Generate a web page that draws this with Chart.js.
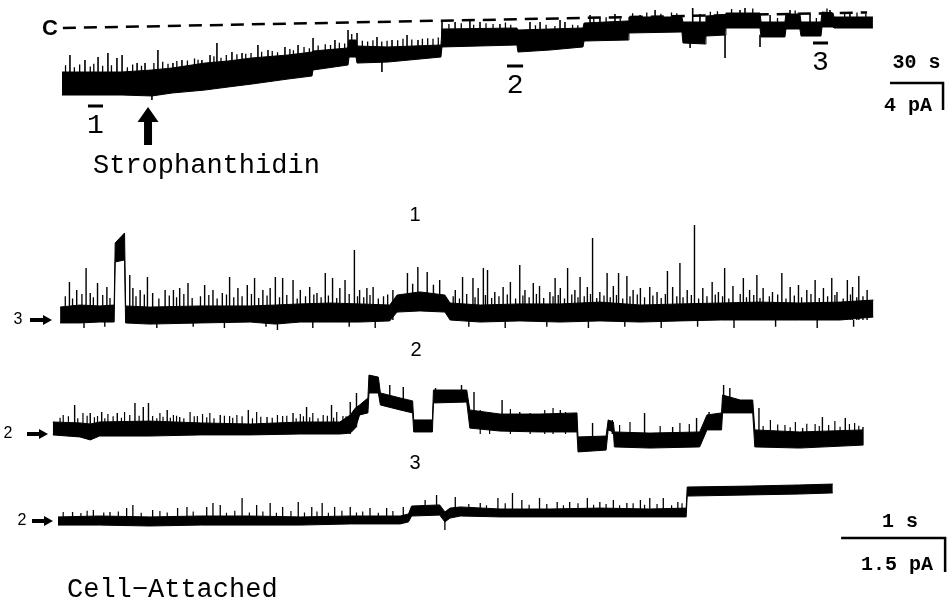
<!DOCTYPE html>
<html><head><meta charset="utf-8">
<script src="https://cdn.jsdelivr.net/npm/chart.js@4.4.0/dist/chart.umd.min.js"></script>
<style>html,body{margin:0;padding:0;background:#fff;overflow:hidden}#wrap{position:relative;width:947px;height:599px}</style>
</head><body><div id="wrap"><canvas id="c" width="947" height="599"></canvas></div>
<script>
// ---------------- DATA ----------------
// Top record: time (s) vs current (pA), 0 pA = closed level "C" at start
const topTime = [0, 14.7, 34.0, 50.9, 62.3, 80.9, 94.0, 107.5, 127.9, 141.5, 142.1, 161.9, 162.5, 166.4, 167.0, 184.5, 214.5, 215.1, 257.5, 258.1, 276.2, 294.9, 295.5, 320.4, 320.9, 350.9, 351.5, 364.0, 364.5, 375.3, 375.8, 395.1, 395.7, 409.2, 409.8, 417.7, 418.3, 429.6, 430.2, 436.4, 437.0, 459.0];
const topLow  = [-9.93, -9.93, -9.93, -10.07, -9.63, -9.19, -8.74, -8.30, -7.56, -7.11, -6.22, -5.48, -4.30, -4.30, -5.19, -5.04, -4.30, -2.81, -2.52, -3.56, -3.26, -2.81, -1.93, -1.78, -0.74, -0.59, -2.22, -2.37, -1.19, -1.04, 0, 0, -1.33, -1.33, -0.15, -0.15, -1.19, -1.19, 0.15, 0.15, 0, 0];
const topHigh = [-6.52, -6.52, -6.52, -6.22, -5.93, -5.19, -4.89, -4.44, -4.00, -3.56, -3.41, -2.96, -1.78, -1.78, -2.67, -2.81, -2.52, -0.15, 0, -0.30, -0.15, 0, 0.74, 1.04, 1.63, 1.63, 0.89, 0.89, 1.78, 1.93, 2.22, 2.22, 0.89, 0.89, 2.07, 2.07, 0.89, 0.89, 2.37, 2.22, 1.63, 1.63];
const topSpikeT    = [4.5, 13.0, 20.4, 26.0, 31.1, 34.0, 42.5, 47.0, 54.3, 62.8, 67.9, 79.2, 83.8, 87.7, 96.2, 101.9, 110.9, 116.6, 126.2, 133.6, 142.1, 154.5, 161.9, 167.0, 178.3, 186.8, 195.3, 201.5, 215.1, 222.5, 230.9, 236.6, 247.9, 264.9, 270.6, 281.9, 284.7, 298.9, 304.5, 313.0, 327.2, 335.7, 357.0, 361.1, 383.8, 386.6, 400.8, 412.1, 423.4, 434.7, 446.0, 50.9, 181.1, 375.3, 395.1, 355.5];
const topSpikeTip  = [-4.00, -4.74, -4.30, -3.70, -4.44, -4.00, -5.19, -5.19, -3.26, -5.19, -4.74, -4.74, -4.00, -2.22, -3.56, -3.70, -2.52, -3.26, -2.81, -2.52, -1.48, -1.78, -0.30, -0.74, -1.33, -1.78, -1.04, -1.78, 1.00, 0.89, 1.19, 0.89, 0.59, 0.89, 0.89, 1.19, 0.89, 1.93, 1.48, 2.07, 1.93, 2.67, 2.96, 2.07, 2.67, 2.96, 1.93, 2.67, 2.07, 2.67, 2.37, -10.67, -6.52, -4.44, -2.81, -2.96];
const topSpikeBase = [-7.5, -7.5, -7.5, -7.5, -7.5, -7.5, -7.5, -7.3, -7.2, -7.0, -6.8, -6.3, -6.2, -6.0, -5.7, -5.5, -5.2, -5.0, -4.8, -4.5, -4.2, -4.0, -3.5, -3.5, -3.6, -3.5, -3.4, -3.3, -1.5, -1.5, -1.5, -1.5, -1.5, -2.0, -2.0, -2.0, -2.0, -0.5, -1.0, -0.5, 0.5, 0.5, 0.5, 0.5, 1.0, 1.0, -0.5, 1.0, -0.5, 1.0, 1.0, -9.0, -4.5, -1.0, -1.0, -1.5];
const topMinorT    = [2, 7, 10, 16, 18, 23, 28, 37, 40, 45, 52, 57, 60, 65, 71, 75, 77, 86, 90, 93, 99, 104, 107, 113, 119, 122, 129, 131, 137, 140, 145, 149, 152, 157, 160, 164, 170, 173, 176, 181, 184, 190, 193, 198, 204, 207, 210, 213,
                      219, 226, 233, 240, 244, 251, 254, 268, 274, 279, 289, 292, 301, 308, 316, 323, 331, 339, 345, 348, 367, 371, 379, 391, 405, 415, 427, 433, 443, 450, 455];
const topMinorTip  = [-5.5, -5.8, -5.4, -5.7, -5.3, -5.6, -5.5, -5.8, -5.4, -5.6, -5.2, -5.0, -5.3, -4.9, -4.8, -4.5, -4.7, -4.2, -4.4, -4.0, -3.9, -3.8, -3.7, -3.5, -3.4, -3.6, -3.1, -3.3, -2.8, -3.0, -2.6, -2.4, -2.5, -2.2, -2.3, -0.9, -1.9, -2.0, -1.8, -2.0, -1.9, -1.8, -1.6, -1.7, -1.6, -1.5, -1.6, -1.4,
                      0.6, 0.7, 0.5, 0.7, 0.6, 0.8, 0.5, 0.4, 0.5, 0.3, 0.5, 0.4, 1.5, 1.6, 1.4, 2.2, 2.3, 2.1, 2.3, 2.2, 2.4, 2.5, 2.8, 2.9, 1.5, 2.6, 1.5, 2.9, 2.2, 2.3, 2.1];
const topMinorBase = [-7, -7, -7, -7, -7, -7, -7, -7, -7, -7, -6.8, -6.6, -6.5, -6.4, -6.2, -6.0, -6.0, -5.6, -5.5, -5.4, -5.2, -5.0, -4.9, -4.7, -4.5, -4.5, -4.3, -4.2, -4.0, -3.9, -3.6, -3.5, -3.4, -3.3, -3.2, -2.5, -3.0, -3.0, -3.0, -3.0, -3.0, -3.0, -2.9, -2.9, -2.8, -2.8, -2.7, -2.7,
                      -1, -1, -1, -1, -1, -1, -1, -1.2, -1.2, -1.2, -1.2, -1.2, 0.3, 0.3, 0.3, 1.0, 1.0, 1.0, 1.0, 1.0, 1.2, 1.2, 1.5, 1.5, 0.3, 1.5, 0.3, 1.5, 1.0, 1.0, 1.0];
const closedLineT  = [0.5, 455.7];
const closedLinePA = [0, 2.3];
const strophTime = 48.7;
const segLabels = ['1', '2', '3'];
const segStart  = [14.7, 251.9, 425.1];
const segEnd    = [23.2, 261.0, 433.6];
const topBarSec = 30, topBarPA = 4;

// Expanded records 1, 2, 3: time (s) vs current (pA) relative to the arrow level
const t1  = [0.02, 0.21, 0.40, 0.54, 0.55, 0.64, 0.65, 0.88, 1.37, 1.85, 2.09, 2.33, 2.62, 2.90, 3.19, 3.26, 3.48, 3.72, 3.77, 4.06, 4.44, 4.83, 5.21, 5.60, 5.98, 6.37, 6.75, 7.13, 7.52, 7.84];
const lo1 = [-0.13, -0.13, -0.09, -0.09, 2.56, 2.65, -0.13, -0.18, -0.13, -0.09, -0.18, -0.09, -0.09, -0.09, -0.04, 0.35, 0.40, 0.35, 0, -0.09, -0.04, -0.09, -0.04, -0.09, -0.04, 0, 0, 0, 0, 0.13];
const hi1 = [0.57, 0.66, 0.62, 0.66, 3.40, 3.84, 0.62, 0.57, 0.62, 0.62, 0.66, 0.71, 0.75, 0.71, 0.66, 1.10, 1.24, 1.10, 0.75, 0.66, 0.71, 0.71, 0.79, 0.66, 0.71, 0.75, 0.79, 0.75, 0.79, 0.88];
const sp1T   = [0.11, 0.27, 0.38, 0.47, 0.69, 0.86, 1.11, 1.25, 1.41, 1.65, 1.82, 1.89, 2.09, 2.16, 2.26, 2.42, 2.57, 2.64, 2.76, 2.85, 3.03, 3.89, 3.99, 4.09, 4.13, 4.35, 4.44, 4.57, 4.78, 4.90, 5.02, 5.14, 5.28, 5.39, 5.47, 5.69, 5.86, 5.98, 6.12, 6.29, 6.41, 6.59, 6.72, 6.96, 7.12, 7.28, 7.44, 7.59, 7.70, 2.11,
                0.18, 0.31, 0.72, 0.79, 0.91, 1.03, 1.17, 1.49, 1.58, 1.73, 1.97, 2.04, 2.33, 2.49, 2.71, 2.90, 2.97, 3.22, 3.82, 4.04, 4.20, 4.28, 4.49, 4.63, 4.73, 4.83, 4.97, 5.09, 5.21, 5.34, 5.53, 5.60, 5.76, 5.91, 6.05, 6.20, 6.35, 6.49, 6.65, 6.78, 6.87, 7.04, 7.20, 7.36, 7.49, 7.64, 7.78,
                0.25, 0.45, 0.95, 1.30, 1.60, 2.00, 2.45, 2.80, 3.05, 3.95, 4.30, 4.70, 5.10, 5.45, 5.80, 6.15, 6.50, 6.90, 7.30, 7.65];
const sp1Tip = [1.68, 2.29, 1.63, 1.46, 1.99, 1.90, 1.32, 1.63, 1.54, 1.90, 1.54, 1.85, 1.90, 1.85, 1.76, 1.46, 2.07, 1.85, 1.76, 3.09, 1.46, 1.90, 1.85, 2.29, 2.21, 1.68, 2.43, 1.63, 1.85, 2.29, 1.90, 3.62, 2.07, 2.07, 1.94, 1.46, 2.16, 2.51, 4.19, 1.68, 2.29, 1.85, 1.99, 2.07, 1.54, 1.76, 1.85, 1.76, 1.94, -0.44,
                1.32, 1.19, 1.41, 1.32, 1.19, 1.32, 1.41, 1.32, 1.19, 1.41, 1.32, 1.41, 1.32, 1.19, 1.41, 1.32, 1.41, 1.32, 1.32, 1.41, 1.24, 1.46, 1.32, 1.50, 1.24, 1.41, 1.32, 1.46, 1.24, 1.50, 1.32, 1.41, 1.24, 1.46, 1.32, 1.41, 1.24, 1.50, 1.32, 1.41, 1.24, 1.46, 1.32, 1.41, 1.24, 1.46, 1.32,
                -0.35, -0.30, -0.35, -0.30, -0.35, -0.30, -0.35, -0.30, -0.35, -0.30, -0.35, -0.30, -0.35, -0.30, -0.35, -0.30, -0.35, -0.30, -0.35, -0.30];
const sp1Base = 0;
const sp1ShortT   = [0.07, 0.14, 0.23, 0.34, 0.43, 0.50, 0.75, 0.83, 0.97, 1.07, 1.14, 1.21, 1.29, 1.37, 1.45, 1.53, 1.62, 1.69, 1.77, 1.86, 1.93, 2.01, 2.13, 2.20, 2.30, 2.38, 2.46, 2.53, 2.60, 2.68, 2.80, 2.88, 2.94, 3.00, 3.08, 3.13, 3.17,
                     3.80, 3.86, 3.93, 4.01, 4.11, 4.17, 4.24, 4.32, 4.40, 4.47, 4.53, 4.60, 4.67, 4.76, 4.81, 4.87, 4.94, 5.00, 5.06, 5.12, 5.18, 5.25, 5.31, 5.37, 5.43, 5.50, 5.57, 5.64, 5.72, 5.80, 5.84, 5.95, 6.01, 6.09, 6.16, 6.24, 6.32, 6.39, 6.45, 6.56, 6.62, 6.69, 6.75, 6.84, 6.92, 7.00, 7.08, 7.15, 7.24, 7.32, 7.40, 7.47, 7.55, 7.62, 7.68, 7.74, 7.81];
const sp1ShortTip = [1.05, 0.95, 1.15, 1.00, 1.10, 0.97, 1.05, 1.12, 0.95, 1.08, 1.00, 1.15, 0.97, 1.05, 1.10, 0.95, 1.12, 1.00, 1.05, 1.15, 0.97, 1.08, 1.00, 1.10, 0.95, 1.05, 1.12, 1.00, 1.08, 0.97, 1.15, 1.05, 1.00, 1.10, 0.95, 1.05, 1.12,
                     1.05, 0.95, 1.15, 1.00, 1.10, 0.97, 1.05, 1.12, 0.95, 1.08, 1.00, 1.15, 0.97, 1.05, 1.10, 0.95, 1.12, 1.00, 1.05, 1.15, 0.97, 1.08, 1.00, 1.10, 0.95, 1.05, 1.12, 1.00, 1.08, 0.97, 1.15, 1.05, 1.00, 1.10, 0.95, 1.05, 1.12, 1.05, 0.95, 1.15, 1.00, 1.10, 0.97, 1.05, 1.12, 0.95, 1.08, 1.00, 1.15, 0.97, 1.05, 1.10, 0.95, 1.12, 1.00, 1.05];
const sp1ElevT   = [3.36, 3.41, 3.46, 3.55, 3.61, 3.67];
const sp1ElevTip = [2.07, 1.60, 2.34, 2.12, 1.55, 1.76];
const sp1ElevBase = 0.5;

const t2  = [-0.05, 0.21, 0.31, 0.40, 0.88, 1.37, 1.85, 2.33, 2.71, 2.81, 2.86, 2.90, 2.98, 2.99, 3.08, 3.10, 3.29, 3.41, 3.42, 3.60, 3.61, 3.93, 3.96, 4.25, 4.63, 4.99, 5.00, 5.27, 5.29, 5.34, 5.35, 5.69, 6.17, 6.24, 6.38, 6.39, 6.56, 6.68, 6.70, 7.13, 7.74];
const lo2 = [-0.04, -0.13, -0.26, -0.09, -0.09, -0.04, -0.04, 0, 0, 0.04, 0.26, 0.84, 0.93, 1.81, 1.81, 1.28, 1.06, 0.93, 0.09, 0.09, 1.37, 1.41, 0.26, 0.13, 0.09, 0.09, -0.79, -0.71, 0.18, 0.09, -0.57, -0.62, -0.57, 0.18, 0.18, 0.93, 0.93, 0.93, -0.57, -0.62, -0.49];
const hi2 = [0.53, 0.49, 0.44, 0.53, 0.57, 0.49, 0.44, 0.53, 0.53, 0.84, 1.15, 1.28, 1.59, 2.60, 2.51, 1.81, 1.59, 1.46, 0.62, 0.62, 1.94, 1.94, 1.06, 0.88, 0.88, 0.93, -0.13, -0.09, 0.62, 0.53, 0.09, 0.04, 0.09, 0.84, 0.93, 1.72, 1.50, 1.50, 0.18, 0.09, 0.18];
const sp2T    = [0.16, 0.31, 0.42, 0.57, 0.74, 0.82, 0.87, 1.05, 1.17, 1.56, 1.83, 2.01, 2.26, 2.39, 2.63, 2.81, 2.87, 3.19, 3.32, 3.63, 3.75, 3.88, 4.00, 4.27, 4.44, 4.83, 4.94, 5.14, 5.33, 5.64, 5.91, 6.14, 6.26, 6.40, 6.46, 6.63, 6.74, 7.16, 7.35, 7.57, 7.74];
const sp2Tip  = [1.28, 0.93, 0.97, 0.93, 1.37, 1.19, 1.37, 1.06, 0.75, 0.84, 1.06, 0.75, 0.93, 1.19, 1.28, 1.41, 1.81, 2.16, 2.07, 2.03, 1.94, 2.16, 1.85, 1.50, 0.97, 1.06, 0.84, 0.49, 0.62, 0.93, 0.31, 0.71, 0.97, 2.16, 2.03, 1.50, 1.15, 0.26, 0.75, 0.71, 0.31];
const sp2Base = [0, 0, 0, 0, 0, 0, 0, 0, 0, 0, 0, 0, 0, 0, 0, 0, 0.3, 1.3, 1.3, 1.4, 1.4, 1.4, 0.3, 0.2, 0.2, 0.2, 0.2, -0.6, 0, -0.5, -0.5, -0.5, 0.3, 1.2, 1.2, 1.2, -0.5, -0.5, -0.5, -0.5, -0.5];
const sp2MinorT   = [0.05, 0.24, 0.38, 0.48, 0.64, 0.69, 0.91, 0.98, 1.11, 1.27, 1.34, 1.39, 1.46, 1.65, 1.72, 1.91, 2.11, 2.16, 2.33, 2.45, 2.55, 2.68, 2.74, 4.06, 4.15, 4.35, 4.54, 4.68, 4.76, 4.88, 5.40, 5.50, 5.79, 5.98, 6.07, 6.85, 6.99, 7.09, 7.28, 7.47, 7.66,
                     0.02, 0.10, 0.19, 0.28, 0.35, 0.45, 0.53, 0.61, 0.78, 0.95, 1.01, 1.08, 1.14, 1.21, 1.31, 1.43, 1.50, 1.60, 1.68, 1.77, 1.87, 1.95, 2.06, 2.20, 2.29, 2.36, 2.42, 2.50, 2.59, 2.65, 2.77,
                     6.78, 6.92, 7.04, 7.20, 7.32, 7.41, 7.52, 7.61, 7.70];
const sp2MinorTip = [0.84, 0.93, 0.79, 0.88, 0.97, 0.84, 0.79, 0.93, 0.84, 0.97, 0.79, 0.88, 0.93, 0.79, 0.84, 0.97, 0.84, 0.79, 0.88, 0.93, 0.84, 0.97, 0.79, 1.06, 0.97, 1.10, 0.93, 1.06, 1.15, 0.97, 0.40, 0.53, 0.35, 0.49, 0.44, 0.62, 0.40, 0.53, 0.44, 0.57, 0.49,
                     0.72, 0.78, 0.70, 0.80, 0.74, 0.70, 0.78, 0.72, 0.80, 0.70, 0.76, 0.72, 0.80, 0.70, 0.78, 0.74, 0.70, 0.80, 0.72, 0.78, 0.70, 0.76, 0.72, 0.80, 0.70, 0.78, 0.74, 0.70, 0.80, 0.72, 0.78,
                     0.35, 0.42, 0.30, 0.45, 0.35, 0.40, 0.32, 0.44, 0.36];
const sp2MinorBase = 0;

const t3  = [0, 0.40, 0.88, 1.37, 1.85, 2.33, 2.81, 3.29, 3.37, 3.40, 3.67, 3.72, 3.77, 3.87, 4.25, 4.73, 5.21, 5.69, 6.04, 6.05, 6.65, 7.13, 7.45];
const lo3 = [-0.18, -0.18, -0.22, -0.18, -0.18, -0.18, -0.13, -0.13, -0.04, 0.22, 0.26, -0.04, 0.13, 0.22, 0.18, 0.18, 0.18, 0.18, 0.18, 1.10, 1.15, 1.19, 1.24];
const hi3 = [0.18, 0.22, 0.18, 0.22, 0.22, 0.18, 0.22, 0.22, 0.31, 0.66, 0.71, 0.40, 0.57, 0.62, 0.53, 0.53, 0.57, 0.53, 0.57, 1.50, 1.54, 1.59, 1.63];
const sp3T    = [0.14, 0.34, 0.50, 0.66, 0.72, 0.91, 1.15, 1.24, 1.43, 1.49, 1.56, 1.77, 1.91, 2.04, 2.16, 2.31, 2.44, 2.54, 2.66, 2.81, 3.00, 3.16, 3.32, 3.53, 3.64, 3.82, 4.06, 4.23, 4.37, 4.46, 4.63, 4.80, 4.92, 5.09, 5.21, 5.34, 5.47, 5.60, 5.69, 5.82, 5.96, 3.72];
const sp3Tip  = [0.40, 0.49, 0.40, 0.57, 0.71, 0.49, 0.57, 0.62, 0.62, 0.79, 0.71, 1.01, 0.71, 0.79, 0.62, 0.84, 0.62, 0.79, 0.62, 0.62, 0.57, 0.57, 0.62, 0.93, 1.15, 1.06, 0.79, 1.01, 1.24, 0.93, 1.01, 0.84, 0.84, 1.01, 0.84, 0.93, 0.79, 0.93, 1.01, 1.01, 0.84, -0.40];
const sp3Base = [0, 0, 0, 0, 0, 0, 0, 0, 0, 0, 0, 0, 0, 0, 0, 0, 0, 0, 0, 0, 0, 0, 0, 0.4, 0.4, 0.3, 0.3, 0.3, 0.3, 0.3, 0.3, 0.3, 0.3, 0.3, 0.3, 0.3, 0.3, 0.3, 0.3, 0.3, 0.3, 0.2];
const sp3MinorT   = [0.05, 0.22, 0.28, 0.44, 0.58, 0.80, 0.98, 1.05, 1.30, 1.62, 1.70, 1.84, 1.97, 2.10, 2.24, 2.37, 2.49, 2.60, 2.73, 2.87, 2.93, 3.08, 3.22];
const sp3MinorTip = [0.40, 0.35, 0.45, 0.38, 0.42, 0.36, 0.44, 0.38, 0.42, 0.36, 0.45, 0.38, 0.42, 0.36, 0.44, 0.38, 0.42, 0.36, 0.45, 0.38, 0.42, 0.36, 0.44];
const sp3MinorBase = 0;
const sp3LateT   = [3.95, 4.12, 4.30, 4.53, 4.70, 4.86, 5.00, 5.15, 5.27, 5.40, 5.53, 5.64, 5.76, 5.90, 6.00];
const sp3LateTip = [0.75, 0.70, 0.78, 0.72, 0.75, 0.70, 0.78, 0.72, 0.75, 0.70, 0.78, 0.72, 0.75, 0.70, 0.78];
const sp3LateBase = 0.3;
const traceLabels = ['1', '2', '3'];
const levelLabels = ['3', '2', '2'];
const botBarSec = 1, botBarPA = 1.5;

const closedLabel = 'C';
const drugLabel = 'Strophanthidin';
const modeLabel = 'Cell\u2212Attached';

// ---------------- LAYOUT ----------------
const W = 947, H = 599;
const TOPX0 = 62, TOPPPS = 53 / 30, TOPY0 = 28, TOPPPA = 27 / 4;
const BOTX0 = 58, BOTPPS = 104, BOTPPA = 34 / 1.5;
const BASEPX = [320, 434, 521];
const SEG_BAR_Y = [106, 66, 43];
const TOPBAR = {tEnd: 498.7, y: -8.15};
const BOTBAR = {tEnd: 8.53, y: -0.75};
const LABEL_POS = [[415, 215], [416, 350], [415, 463]];
const LEVEL_POS = [[18, 30, 52], [8, 27, 48], [22, 32, 53]];

function rX(x0, pps) { return {min: -x0 / pps, max: (W - x0) / pps}; }
function rY(y0, ppa) { return {max: y0 / ppa, min: (y0 - H) / ppa}; }

const datasets = [];
function addBand(t, lo, hi, xID, yID) {
  datasets.push({data: t.map((x, i) => ({x: x, y: lo[i]})), xAxisID: xID, yAxisID: yID,
    borderColor: '#000', borderWidth: 1, pointRadius: 0, fill: false, tension: 0});
  datasets.push({data: t.map((x, i) => ({x: x, y: hi[i]})), xAxisID: xID, yAxisID: yID,
    borderColor: '#000', borderWidth: 1, pointRadius: 0, fill: '-1', backgroundColor: '#000', tension: 0});
}
function addSpikes(t, tip, base, xID, yID, w) {
  const d = [];
  t.forEach((x, i) => {
    const b = Array.isArray(base) ? base[i] : base;
    d.push({x: x, y: b}, {x: x, y: tip[i]}, {x: x, y: null});
  });
  datasets.push({data: d, xAxisID: xID, yAxisID: yID, borderColor: '#000', borderWidth: w,
    pointRadius: 0, fill: false, spanGaps: false, tension: 0});
}
function addPath(pts, xID, yID, w, dash) {
  datasets.push({data: pts, xAxisID: xID, yAxisID: yID, borderColor: '#000', borderWidth: w,
    borderDash: dash || [], pointRadius: 0, fill: false, tension: 0, borderCapStyle: 'butt'});
}

// top record
addPath(closedLineT.map((x, i) => ({x: x, y: closedLinePA[i]})), 'xT', 'yT', 2.5, [13, 8]);
addBand(topTime, topLow, topHigh, 'xT', 'yT');
addSpikes(topSpikeT, topSpikeTip, topSpikeBase, 'xT', 'yT', 1.6);
addSpikes(topMinorT, topMinorTip, topMinorBase, 'xT', 'yT', 1.3);
addPath([{x: TOPBAR.tEnd - topBarSec, y: TOPBAR.y}, {x: TOPBAR.tEnd, y: TOPBAR.y}, {x: TOPBAR.tEnd, y: TOPBAR.y - topBarPA}], 'xT', 'yT', 2.5);
// expanded records
addBand(t1, lo1, hi1, 'xB', 'y1');
addSpikes(sp1T, sp1Tip, sp1Base, 'xB', 'y1', 1.4);
addSpikes(sp1ShortT, sp1ShortTip, sp1Base, 'xB', 'y1', 1.3);
addSpikes(sp1ElevT, sp1ElevTip, sp1ElevBase, 'xB', 'y1', 1.4);
addBand(t2, lo2, hi2, 'xB', 'y2');
addSpikes(sp2T, sp2Tip, sp2Base, 'xB', 'y2', 1.4);
addSpikes(sp2MinorT, sp2MinorTip, sp2MinorBase, 'xB', 'y2', 1.2);
addBand(t3, lo3, hi3, 'xB', 'y3');
addSpikes(sp3T, sp3Tip, sp3Base, 'xB', 'y3', 1.3);
addSpikes(sp3MinorT, sp3MinorTip, sp3MinorBase, 'xB', 'y3', 1.2);
addSpikes(sp3LateT, sp3LateTip, sp3LateBase, 'xB', 'y3', 1.2);
addPath([{x: BOTBAR.tEnd - botBarSec, y: BOTBAR.y}, {x: BOTBAR.tEnd, y: BOTBAR.y}, {x: BOTBAR.tEnd, y: BOTBAR.y - botBarPA}], 'xB', 'y3', 2.5);

const mono = '"Liberation Mono","DejaVu Sans Mono",monospace';
const sans = '"Liberation Sans","DejaVu Sans",sans-serif';

const annot = {
  id: 'annot',
  afterDraw(chart) {
    const c = chart.ctx, S = chart.scales;
    c.save();
    c.fillStyle = '#000';
    // closed level label
    c.font = 'bold 22px ' + sans; c.textAlign = 'center'; c.textBaseline = 'middle';
    c.fillText(closedLabel, 50, S.yT.getPixelForValue(closedLinePA[0]) + 1);
    // segment markers
    c.font = '28px ' + mono; c.textBaseline = 'alphabetic';
    segLabels.forEach((lab, i) => {
      const x0 = S.xT.getPixelForValue(segStart[i]), x1 = S.xT.getPixelForValue(segEnd[i]);
      const yb = SEG_BAR_Y[i];
      c.fillRect(x0, yb - 1.5, x1 - x0, 3);
      c.fillText(lab, (x0 + x1) / 2, yb + 27);
    });
    // application arrow
    const ax = S.xT.getPixelForValue(strophTime);
    c.beginPath();
    c.moveTo(ax, 107); c.lineTo(ax + 10.5, 122); c.lineTo(ax + 4, 122); c.lineTo(ax + 4, 145);
    c.lineTo(ax - 4, 145); c.lineTo(ax - 4, 122); c.lineTo(ax - 10.5, 122); c.closePath(); c.fill();
    c.font = '27px ' + mono; c.textAlign = 'left';
    c.fillText(drugLabel, 93, 173);
    c.fillText(modeLabel, 67, 597);
    // scale bar labels
    c.font = 'bold 20px ' + mono;
    const tx0 = S.xT.getPixelForValue(TOPBAR.tEnd - topBarSec), tx1 = S.xT.getPixelForValue(TOPBAR.tEnd);
    const ty0 = S.yT.getPixelForValue(TOPBAR.y), ty1 = S.yT.getPixelForValue(TOPBAR.y - topBarPA);
    c.textAlign = 'center'; c.fillText(topBarSec + ' s', (tx0 + tx1) / 2, ty0 - 15);
    c.textAlign = 'right'; c.fillText(topBarPA + ' pA', tx1 - 11, ty1 + 1);
    const bx0 = S.xB.getPixelForValue(BOTBAR.tEnd - botBarSec), bx1 = S.xB.getPixelForValue(BOTBAR.tEnd);
    const by0 = S.y3.getPixelForValue(BOTBAR.y), by1 = S.y3.getPixelForValue(BOTBAR.y - botBarPA);
    c.textAlign = 'center'; c.fillText(botBarSec + ' s', (bx0 + bx1) / 2 + 7, by0 - 11);
    c.textAlign = 'right'; c.fillText(botBarPA + ' pA', bx1 - 12, by1 - 2);
    // trace labels
    c.font = '20px ' + sans; c.textAlign = 'center'; c.textBaseline = 'middle';
    traceLabels.forEach((lab, i) => c.fillText(lab, LABEL_POS[i][0], LABEL_POS[i][1]));
    // level markers
    c.font = '16px ' + sans;
    ['y1', 'y2', 'y3'].forEach((id, i) => {
      const y = S[id].getPixelForValue(0);
      const p = LEVEL_POS[i];
      c.fillText(levelLabels[i], p[0], y);
      c.fillRect(p[1], y - 2, p[2] - p[1] - 8, 4);
      c.beginPath(); c.moveTo(p[2], y); c.lineTo(p[2] - 9, y - 5); c.lineTo(p[2] - 9, y + 5); c.closePath(); c.fill();
    });
    c.restore();
  }
};

new Chart(document.getElementById('c'), {
  type: 'line',
  data: {datasets: datasets},
  options: {
    responsive: false, animation: false, devicePixelRatio: 1, events: [],
    layout: {padding: 0, autoPadding: false},
    plugins: {legend: {display: false}, tooltip: {enabled: false}},
    scales: {
      xT: Object.assign({type: 'linear', axis: 'x', position: 'bottom', display: false}, rX(TOPX0, TOPPPS)),
      yT: Object.assign({type: 'linear', axis: 'y', position: 'left', display: false}, rY(TOPY0, TOPPPA)),
      xB: Object.assign({type: 'linear', axis: 'x', position: 'bottom', display: false}, rX(BOTX0, BOTPPS)),
      y1: Object.assign({type: 'linear', axis: 'y', position: 'left', display: false}, rY(BASEPX[0], BOTPPA)),
      y2: Object.assign({type: 'linear', axis: 'y', position: 'left', display: false}, rY(BASEPX[1], BOTPPA)),
      y3: Object.assign({type: 'linear', axis: 'y', position: 'left', display: false}, rY(BASEPX[2], BOTPPA))
    }
  },
  plugins: [annot]
});
</script></body></html>
